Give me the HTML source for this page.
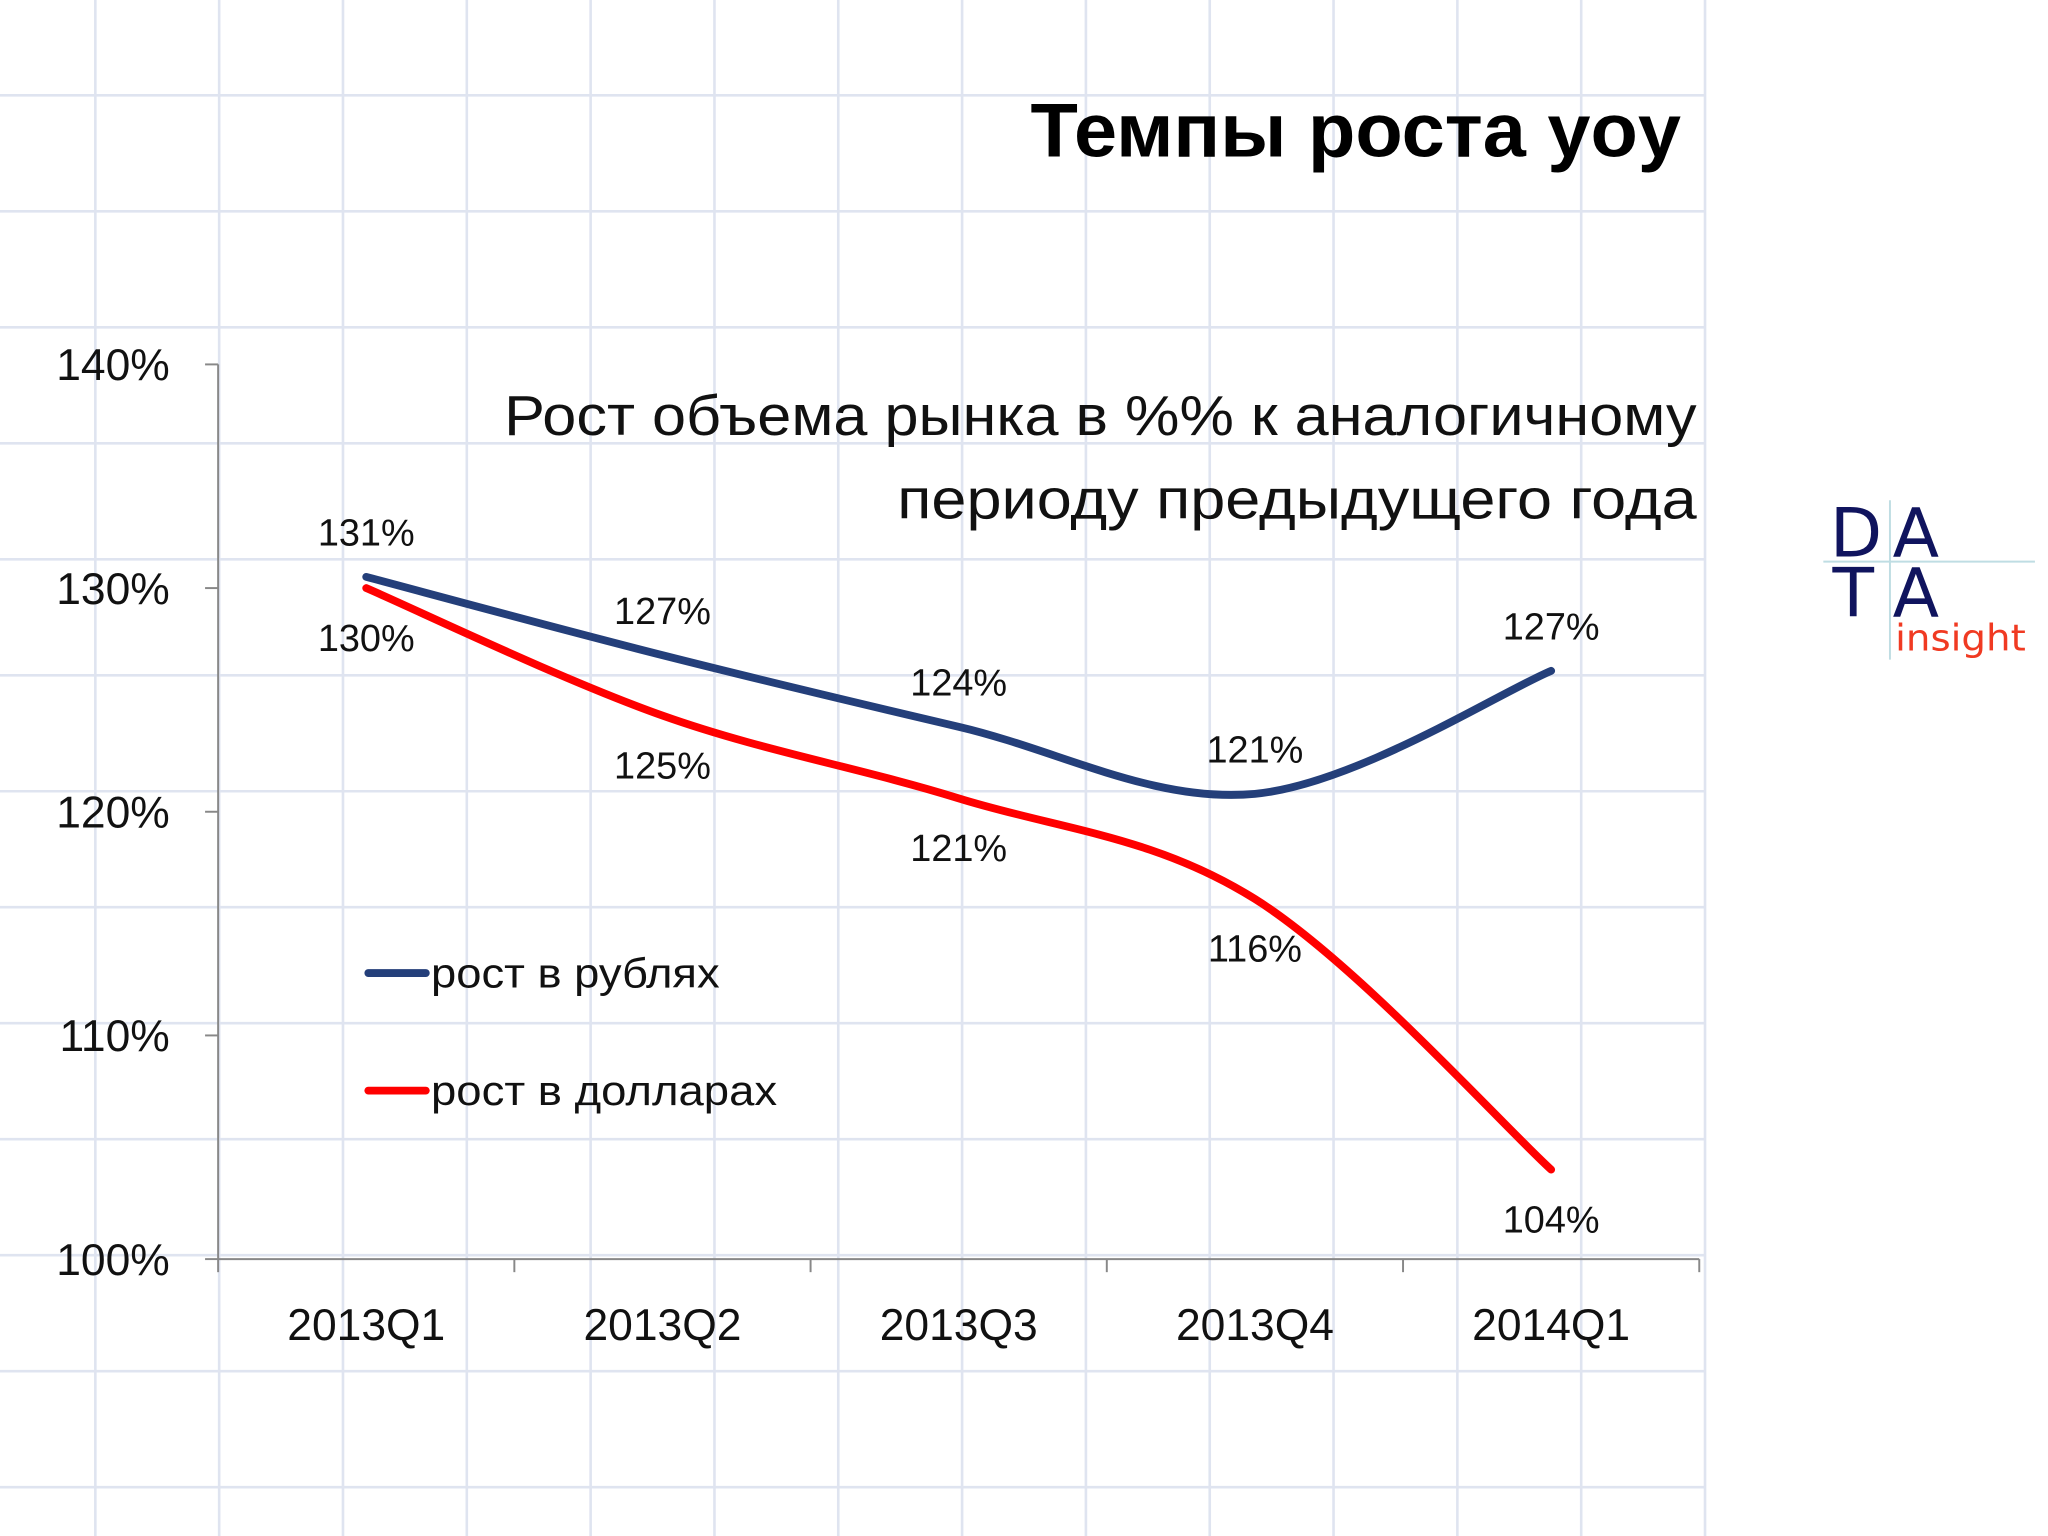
<!DOCTYPE html>
<html><head><meta charset="utf-8"><style>
html,body{margin:0;padding:0;background:#fff;}
svg{display:block;font-family:"Liberation Sans","DejaVu Sans",sans-serif;}
</style></head><body>
<svg id="chart" width="2048" height="1536" viewBox="0 0 1568 1176" xmlns="http://www.w3.org/2000/svg">
<rect width="1568" height="1176" fill="#fff"/>
<g id="grid" stroke="#dfe4f0" stroke-width="2"></g>
<text x="1287" y="120" text-anchor="end" font-size="58" font-weight="bold" fill="#000" textLength="498" lengthAdjust="spacingAndGlyphs">Темпы роста yoy</text>
<text x="386" y="333" font-size="43" fill="#111" textLength="913" lengthAdjust="spacingAndGlyphs">Рост объема рынка в %% к аналогичному</text>
<text x="687" y="397" font-size="43" fill="#111" textLength="612" lengthAdjust="spacingAndGlyphs">периоду предыдущего года</text>
<g id="axes"></g>
<g id="series"></g>
<g id="labels" font-size="29" fill="#111"></g>
<g>
<line x1="282" y1="745" x2="326" y2="745" stroke="#243f7a" stroke-width="6" stroke-linecap="round"/>
<text x="330" y="756" font-size="32" fill="#111" textLength="221" lengthAdjust="spacingAndGlyphs">рост в рублях</text>
<line x1="282" y1="835" x2="326" y2="835" stroke="#ff0000" stroke-width="6" stroke-linecap="round"/>
<text x="330" y="846" font-size="32" fill="#111" textLength="265" lengthAdjust="spacingAndGlyphs">рост в долларах</text>
</g>
<g>
<line x1="1396" y1="430" x2="1558" y2="430" stroke="#bfdde3" stroke-width="1.5"/>
<line x1="1447" y1="383" x2="1447" y2="505" stroke="#bfdde3" stroke-width="1.5"/>
<text x="1401" y="426" font-size="52" fill="#10145e" font-family="DejaVu Sans, sans-serif">D</text>
<text x="1449" y="426" font-size="52" fill="#10145e" font-family="DejaVu Sans, sans-serif">A</text>
<text x="1403" y="472" font-size="52" fill="#10145e" font-family="DejaVu Sans, sans-serif">T</text>
<text x="1449" y="472" font-size="52" fill="#10145e" font-family="DejaVu Sans, sans-serif">A</text>
<text x="1451" y="498" font-size="28" fill="#f03a22" font-family="DejaVu Sans, sans-serif" textLength="100" lengthAdjust="spacingAndGlyphs">insight</text>
</g>
</svg>
<script>
const categories = ["2013Q1","2013Q2","2013Q3","2013Q4","2014Q1"];
const rubValues = [130.5, 127.0, 123.8, 120.8, 126.3];
const usdValues = [130.0, 124.3, 120.6, 116.1, 104.0];
const rubLabels = ["131%","127%","124%","121%","127%"];
const usdLabels = ["130%","125%","121%","116%","104%"];
const yTicks = [100, 110, 120, 130, 140];
const yTickLabels = ["100%","110%","120%","130%","140%"];

const NS = "http://www.w3.org/2000/svg";
const X0 = 167, X1 = 1301, Y0 = 964, Y1 = 279, YMIN = 100, YMAX = 140;
const band = (X1 - X0) / categories.length;
const xPos = i => X0 + band * (i + 0.5);
const yPos = v => Y0 - (v - YMIN) / (YMAX - YMIN) * (Y0 - Y1);
function mk(tag, attrs, parent){const e=document.createElementNS(NS,tag);for(const k in attrs)e.setAttribute(k,attrs[k]);parent.appendChild(e);return e;}

const grid = document.getElementById('grid');
for(let x=73;x<=1306;x+=94.8){const l=mk('line',{x1:x,y1:0,x2:x,y2:1176},grid);

}
for(let y=73;y<1176;y+=88.8){const l=mk('line',{x1:0,y1:y,x2:1306,y2:y},grid);

}

const axes = document.getElementById('axes');
const ya = mk('line',{x1:X0,y1:Y1,x2:X0,y2:Y0,stroke:'#888','stroke-width':1.5},axes);


const xa = mk('line',{x1:X0,y1:Y0,x2:X1,y2:Y0,stroke:'#888','stroke-width':1.5},axes);


yTicks.forEach((v,i)=>{
  mk('line',{x1:X0-10,y1:yPos(v),x2:X0,y2:yPos(v),stroke:'#888','stroke-width':1.5},axes);
  const t = mk('text',{x:130,y:yPos(v)+12,'text-anchor':'end','font-size':34,fill:'#111'},axes);
  t.textContent = yTickLabels[i];
  
  
});
for(let i=0;i<=categories.length;i++){
  mk('line',{x1:X0+band*i,y1:Y0,x2:X0+band*i,y2:Y0+10,stroke:'#888','stroke-width':1.5},axes);
}
categories.forEach((c,i)=>{
  const t = mk('text',{x:xPos(i),y:1026,'text-anchor':'middle','font-size':34,fill:'#111'},axes);
  t.textContent = c;
  
  
});

function smooth(vals){
  const p = vals.map((v,i)=>[xPos(i),yPos(v)]);
  let d = `M${p[0][0]},${p[0][1]}`;
  for(let i=0;i<p.length-1;i++){
    const a=p[Math.max(i-1,0)], b=p[i], c=p[i+1], e=p[Math.min(i+2,p.length-1)];
    const t=0.17;
    d += ` C${b[0]+(c[0]-a[0])*t},${b[1]+(c[1]-a[1])*t} ${c[0]-(e[0]-b[0])*t},${c[1]-(e[1]-b[1])*t} ${c[0]},${c[1]}`;
  }
  return d;
}
const series = document.getElementById('series');
const sr = mk('path',{d:smooth(usdValues),fill:'none',stroke:'#ff0000','stroke-width':6,'stroke-linecap':'round'},series);


const sb = mk('path',{d:smooth(rubValues),fill:'none',stroke:'#243f7a','stroke-width':6,'stroke-linecap':'round'},series);



const labels = document.getElementById('labels');
rubValues.forEach((v,i)=>{
  const t = mk('text',{x:xPos(i),y:yPos(v)-24,'text-anchor':'middle'},labels);
  t.textContent = rubLabels[i];
  
  
});
usdValues.forEach((v,i)=>{
  const t = mk('text',{x:xPos(i),y:yPos(v)+48,'text-anchor':'middle'},labels);
  t.textContent = usdLabels[i];
  
  
});
</script>
</body></html>
